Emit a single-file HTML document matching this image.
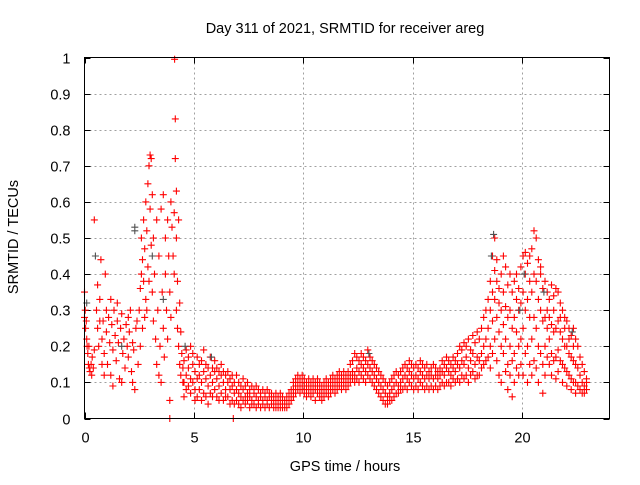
<!DOCTYPE html>
<html><head><meta charset="utf-8"><style>
body{margin:0;background:#fff}
svg text{font-family:"Liberation Sans",sans-serif;font-size:14.5px;fill:#000}
</style></head><body>
<svg id="chart" width="640" height="480" viewBox="0 0 640 480" xmlns="http://www.w3.org/2000/svg">
<rect width="640" height="480" fill="#fff"/>
<text x="345" y="33" text-anchor="middle">Day 311 of 2021, SRMTID for receiver areg</text>
<text transform="translate(18,237) rotate(-90)" text-anchor="middle">SRMTID / TECUs</text>
<text x="345" y="471" text-anchor="middle">GPS time / hours</text>
<g id="grid"></g>
<g id="axes"></g>
<g id="marks"></g>
<rect x="84.5" y="57.5" width="525" height="361" fill="none" stroke="#000" stroke-width="1"/>
</svg>
<script>
const xTicks=[0,5,10,15,20];
const yTicks=[0,0.1,0.2,0.3,0.4,0.5,0.6,0.7,0.8,0.9,1];
const yTickLabels=["0","0.1","0.2","0.3","0.4","0.5","0.6","0.7","0.8","0.9","1"];
// rows: [hour, value, value, ...]
const redSeries=[
[0,0.35,0.28],[0.03,0.3],[0.05,0.25],[0.08,0.27],[0.1,0.22],[0.12,0.2],[0.15,0.18],[0.18,0.15],[0.2,0.2],[0.22,0.14],[0.25,0.13],[0.3,0.15],[0.33,0.12],[0.35,0.17],[0.4,0.14],[0.45,0.19,0.55],[0.6,0.37],
[0.55,0.3],[0.6,0.25],[0.65,0.2],[0.7,0.33,0.27],[0.75,0.44],[0.8,0.22,0.15],[0.85,0.27],[0.9,0.18,0.12],[0.95,0.4],[1.0,0.24,0.3],[1.05,0.15],[1.1,0.28],[1.15,0.21],[1.2,0.12,0.33],[1.25,0.26],[1.3,0.19,0.09],[1.35,0.3],[1.4,0.23],[1.45,0.16],[1.5,0.27,0.32],[1.55,0.21],[1.6,0.11],[1.65,0.25],[1.7,0.29,0.1],[1.75,0.18],[1.8,0.22],[1.85,0.14],[1.9,0.26],[1.95,0.2],[2.0,0.17,0.28],[2.05,0.24],[2.1,0.3],[2.15,0.13],[2.2,0.21,0.1],[2.25,0.19],[2.3,0.08],[2.35,0.25],[2.4,0.27],[2.45,0.15],
[2.5,0.3],[2.55,0.36,0.2],[2.6,0.4,0.5],[2.65,0.44,0.25],[2.7,0.38,0.55],[2.75,0.47,0.28],[2.8,0.6,0.33],[2.85,0.52,0.3],[2.9,0.65,0.42],[2.95,0.7,0.38],[3.0,0.73,0.58],[3.05,0.72,0.48],[3.1,0.62,0.35],[3.15,0.5,0.27],
[3.2,0.4],[3.25,0.22],[3.3,0.55,0.15],[3.35,0.3],[3.4,0.12,0.45],[3.45,0.2],[3.5,0.58,0.1],[3.55,0.35],[3.6,0.25,0.62],[3.65,0.17],[3.7,0.4,0.5],[3.75,0.3],[3.8,0.55,0.22],[3.85,0.45],[3.9,0.05,0.35,0],[3.95,0.6,0.28],
[4.0,0.53],[4.05,0.45],[4.1,0.57,0.4],[4.12,0.995],[4.15,0.83,0.72],[4.2,0.63,0.5,0.3],[4.25,0.38,0.25],[4.3,0.55,0.2],[4.35,0.32,0.15],[4.4,0.24,0.12],[4.45,0.18],[4.5,0.14,0.1],
[4.55,0.16,0.1,0.06],[4.65,0.19,0.12,0.08],[4.75,0.14,0.09,0.17],[4.85,0.2,0.11,0.07],[4.95,0.15,0.1,0.18],[5.05,0.13,0.08,0.05],[5.15,0.17,0.11,0.06],[5.25,0.12,0.08,0.15],[5.35,0.16,0.1,0.05],[5.45,0.13,0.07,0.19],[5.55,0.11,0.15,0.06],[5.65,0.14,0.09,0.04],[5.75,0.12,0.17,0.07],[5.85,0.1,0.14,0.06],[5.95,0.13,0.08,0.16],[6.05,0.11,0.06,0.14],[6.15,0.09,0.13,0.05],[6.25,0.12,0.07,0.15],[6.35,0.1,0.05,0.13],[6.45,0.08,0.12,0.06],
[6.55,0.1,0.06,0.13],[6.65,0.08,0.04,0.11],[6.75,0.09,0.12,0.05],[6.8,0],[6.85,0.07,0.1,0.04],[6.95,0.08,0.05,0.12],[7.05,0.07,0.1,0.04],[7.15,0.06,0.09,0.03],[7.25,0.08,0.05,0.11],[7.35,0.06,0.09,0.04],[7.45,0.07,0.05,0.1],[7.55,0.06,0.08,0.03],[7.65,0.05,0.09,0.04],[7.75,0.07,0.04,0.08],[7.85,0.06,0.03,0.09],[7.95,0.05,0.08,0.04],[8.05,0.06,0.03,0.07],[8.15,0.05,0.08,0.04],[8.25,0.06,0.03,0.07],[8.35,0.05,0.08,0.04],[8.45,0.06,0.03,0.07],[8.55,0.05,0.07,0.04],[8.65,0.04,0.06,0.03],[8.75,0.05,0.07,0.03],[8.85,0.04,0.06,0.03],[8.95,0.05,0.03,0.07],[9.05,0.04,0.06,0.03],[9.15,0.05,0.03,0.04],[9.25,0.04,0.06,0.03],[9.35,0.05,0.07,0.04],[9.45,0.06,0.08,0.05],
[9.55,0.08,0.1,0.06],[9.65,0.09,0.11,0.07],[9.75,0.1,0.08,0.12],[9.85,0.09,0.11,0.07],[9.95,0.1,0.08,0.12],[10.05,0.09,0.07,0.11],[10.15,0.1,0.08,0.06],[10.25,0.09,0.11,0.07],[10.35,0.08,0.1,0.06],[10.45,0.09,0.07,0.11],[10.55,0.08,0.1,0.05],[10.65,0.09,0.07,0.11],[10.75,0.08,0.1,0.06],[10.85,0.07,0.09,0.05],[10.95,0.08,0.1,0.06],[11.05,0.09,0.07,0.11],[11.15,0.08,0.1,0.06],[11.25,0.09,0.11,0.07],[11.35,0.1,0.08,0.12],[11.45,0.09,0.11,0.07],[11.55,0.1,0.08,0.12],[11.65,0.11,0.09,0.13],[11.75,0.1,0.08,0.12],[11.85,0.11,0.09,0.13],[11.95,0.1,0.12,0.08],
[12.05,0.11,0.13,0.09],[12.15,0.12,0.1,0.15],[12.25,0.13,0.11,0.16],[12.35,0.12,0.1,0.18],[12.45,0.14,0.11,0.17],[12.55,0.13,0.1,0.16],[12.65,0.15,0.12,0.18],[12.75,0.14,0.11,0.17],[12.85,0.13,0.1,0.16],[12.95,0.15,0.12,0.19],[13.05,0.14,0.11,0.17],[13.15,0.13,0.1,0.16],[13.25,0.12,0.09,0.15],[13.35,0.11,0.08,0.14],[13.45,0.1,0.07,0.13],
[13.55,0.09,0.06,0.12],[13.65,0.08,0.05,0.11],[13.75,0.07,0.04,0.1],[13.85,0.06,0.04,0.09],[13.95,0.07,0.05,0.1],[14.05,0.08,0.05,0.11],[14.15,0.09,0.06,0.12],[14.25,0.1,0.07,0.13],[14.35,0.09,0.07,0.12],[14.45,0.1,0.08,0.13],
[14.55,0.11,0.08,0.14],[14.65,0.12,0.09,0.15],[14.75,0.11,0.08,0.14],[14.85,0.13,0.1,0.16],[14.95,0.12,0.09,0.15],[15.05,0.11,0.08,0.14],[15.15,0.12,0.09,0.15],[15.25,0.11,0.08,0.14],[15.35,0.13,0.1,0.16],[15.45,0.12,0.09,0.15],[15.55,0.11,0.08,0.14],[15.65,0.12,0.09,0.15],[15.75,0.11,0.08,0.13],[15.85,0.12,0.09,0.14],[15.95,0.11,0.08,0.15],[16.05,0.12,0.09,0.14],[16.15,0.11,0.08,0.13],[16.25,0.12,0.09,0.14],[16.35,0.13,0.1,0.16],[16.45,0.12,0.09,0.15],[16.55,0.14,0.1,0.17],[16.65,0.13,0.1,0.16],[16.75,0.12,0.09,0.15],[16.85,0.14,0.11,0.17],[16.95,0.13,0.1,0.16],
[17.05,0.15,0.11,0.18],[17.15,0.14,0.1,0.2],[17.25,0.16,0.12,0.19],[17.35,0.15,0.11,0.21],[17.45,0.17,0.12,0.2],[17.55,0.14,0.1,0.22],[17.65,0.16,0.12,0.19],[17.75,0.18,0.13,0.23],[17.85,0.15,0.11,0.21],[17.95,0.17,0.12,0.24],[18.05,0.16,0.12,0.22],[18.15,0.18,0.14,0.25],[18.25,0.2,0.15,0.28],[18.35,0.22,0.16,0.3],[18.45,0.25,0.17,0.33],
[18.55,0.3,0.2,0.38,0.14],[18.65,0.45,0.27,0.35,0.18],[18.75,0.5,0.33,0.22,0.41],[18.85,0.38,0.28,0.16,0.44],[18.95,0.32,0.24,0.12,0.36],[19.05,0.4,0.3,0.2,0.1],[19.15,0.35,0.26,0.18,0.45],[19.25,0.42,0.31,0.22,0.13],[19.35,0.37,0.28,0.15,0.08],[19.45,0.4,0.3,0.2,0.12],[19.55,0.35,0.25,0.16,0.06],[19.65,0.38,0.28,0.18,0.1],[19.75,0.33,0.24,0.14,0.4],[19.85,0.36,0.3,0.2,0.12],[19.95,0.42,0.32,0.22,0.15],[20.05,0.45,0.35,0.25,0.12],[20.15,0.4,0.3,0.18,0.46],[20.25,0.43,0.33,0.2,0.1],[20.35,0.38,0.28,0.15,0.45],[20.45,0.47,0.35,0.22,0.12],[20.55,0.52,0.4,0.28,0.16],[20.65,0.5,0.38,0.25,0.14],[20.75,0.44,0.33,0.2,0.1],[20.85,0.4,0.3,0.18,0.42],[20.95,0.36,0.27,0.15,0.07],[21.05,0.38,0.28,0.2,0.12],[21.15,0.35,0.25,0.17,0.3],[21.25,0.33,0.22,0.15,0.28],[21.35,0.37,0.26,0.18,0.12],[21.45,0.34,0.24,0.16,0.3],[21.55,0.36,0.25,0.17,0.11],[21.65,0.35,0.27,0.19,0.13],[21.75,0.32,0.24,0.16,0.28],[21.85,0.3,0.22,0.15,0.1],[21.95,0.28,0.2,0.14,0.25],[22.05,0.27,0.2,0.13,0.09],[22.15,0.25,0.18,0.12,0.22],[22.25,0.23,0.17,0.11,0.08],[22.35,0.25,0.16,0.1,0.2],[22.45,0.22,0.15,0.1,0.07],
[22.55,0.2,0.14,0.09],[22.65,0.17,0.12,0.08],[22.75,0.15,0.1,0.07],[22.85,0.13,0.09,0.07],[22.95,0.11,0.08,0.1]
];
const graySeries=[[0.5,0.45],[2.3,0.52,0.53],[18.7,0.51],[18.6,0.45],[3.6,0.33],[20.1,0.4],[19.9,0.3],[21.0,0.35],[22.3,0.24],[1.7,0.2],[4.6,0.2],[13.0,0.18],[5.8,0.17],[0.1,0.32],[3.1,0.45]];

const X0=84.5,X1=609.5,Y0=418.5,Y1=57.5,XMAX=24;
function xs(h){return X0+(X1-X0)*h/XMAX;}
function ys(v){return Y0-(Y0-Y1)*v;}
const NS="http://www.w3.org/2000/svg";
const grid=document.getElementById('grid'),axes=document.getElementById('axes'),marks=document.getElementById('marks');
function mk(tag,attrs,parent){const e=document.createElementNS(NS,tag);for(const k in attrs)e.setAttribute(k,attrs[k]);parent.appendChild(e);return e;}
yTicks.forEach((t,i)=>{
  const y=Math.round(ys(t))+0.5;
  if(t>0&&t<1){const g=mk('line',{x1:X0,x2:X1,y1:y,y2:y,stroke:'#a0a0a0','stroke-dasharray':'2,3'},grid);
  
  }
  mk('line',{x1:X0,x2:X0+6,y1:y,y2:y,stroke:'#000'},axes);
  mk('line',{x1:X1-6,x2:X1,y1:y,y2:y,stroke:'#000'},axes);
  const tx=mk('text',{x:X0-14,y:y+5,'text-anchor':'end'},axes);
  tx.textContent=yTickLabels[i];
  
  
});
xTicks.forEach(t=>{
  const x=Math.round(xs(t))+0.5;
  if(t>0){const g=mk('line',{x1:x,x2:x,y1:Y1,y2:Y0,stroke:'#a0a0a0','stroke-dasharray':'2,3'},grid);
  
  }
  mk('line',{x1:x,x2:x,y1:Y0,y2:Y0-6,stroke:'#000'},axes);
  mk('line',{x1:x,x2:x,y1:Y1,y2:Y1+6,stroke:'#000'},axes);
  const tx=mk('text',{x:x,y:Y0+24,'text-anchor':'middle'},axes);
  tx.textContent=String(t);
  
  
});
function plot(series,color,name){
  let d='';
  series.forEach(row=>{const x=xs(row[0]);for(let i=1;i<row.length;i++){const y=ys(row[i]);
    d+=`M${(x-3.5).toFixed(1)} ${y.toFixed(1)}h7M${x.toFixed(1)} ${(y-3.5).toFixed(1)}v7`;}});
  const p=mk('path',{d:d,stroke:color,'stroke-width':1.1,fill:'none'},marks);
  
  
}
plot(redSeries,'#ff0000','red-series-points');
plot(graySeries,'#505050','gray-series-points');
</script>
</body></html>
